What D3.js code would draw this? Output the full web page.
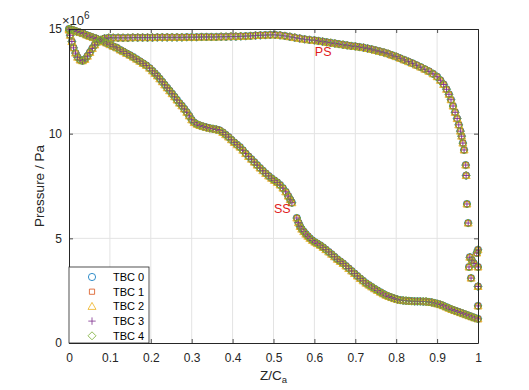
<!DOCTYPE html>
<html><head><meta charset="utf-8">
<script src="https://cdn.jsdelivr.net/npm/d3@7"></script>
<style>
html,body{margin:0;padding:0;background:#fff;}
svg{display:block;font-family:"Liberation Sans",Arial,Helvetica,sans-serif;}
</style></head>
<body><svg id="c" width="529" height="390"></svg>
<script>
// ---- data (Z/Ca, pressure in 1e6 Pa), all five TBC cases coincide visually ----
const seriesNames = ["TBC 0","TBC 1","TBC 2","TBC 3","TBC 4"];
const xTicks = [0,0.1,0.2,0.3,0.4,0.5,0.6,0.7,0.8,0.9,1];
const yTicks = [0,5,10,15];
const pressureSide = [[0.000,14.95],[0.003,14.70],[0.007,14.40],[0.011,14.10],[0.016,13.85],[0.021,13.65],[0.027,13.52],[0.033,13.48],[0.039,13.55],[0.045,13.70],[0.051,13.88],[0.057,14.07],[0.063,14.24],[0.070,14.38],[0.078,14.48],[0.087,14.55],[0.097,14.58],[0.108,14.58],[0.120,14.58],[0.132,14.58],[0.144,14.58],[0.156,14.59],[0.168,14.59],[0.180,14.59],[0.192,14.59],[0.204,14.59],[0.216,14.60],[0.228,14.60],[0.240,14.60],[0.252,14.60],[0.264,14.60],[0.276,14.60],[0.288,14.61],[0.300,14.61],[0.312,14.61],[0.324,14.62],[0.336,14.62],[0.348,14.62],[0.360,14.62],[0.372,14.63],[0.384,14.63],[0.396,14.64],[0.408,14.64],[0.420,14.65],[0.432,14.66],[0.444,14.67],[0.456,14.69],[0.468,14.70],[0.480,14.71],[0.492,14.72],[0.504,14.72],[0.516,14.70],[0.528,14.67],[0.540,14.63],[0.552,14.59],[0.564,14.55],[0.576,14.51],[0.588,14.48],[0.600,14.46],[0.610,14.43],[0.620,14.40],[0.630,14.37],[0.640,14.34],[0.650,14.31],[0.660,14.28],[0.670,14.25],[0.680,14.22],[0.690,14.19],[0.700,14.17],[0.710,14.14],[0.720,14.11],[0.730,14.07],[0.740,14.03],[0.750,13.98],[0.760,13.93],[0.770,13.88],[0.780,13.82],[0.790,13.75],[0.800,13.68],[0.810,13.60],[0.820,13.52],[0.830,13.44],[0.840,13.36],[0.850,13.27],[0.860,13.18],[0.870,13.08],[0.880,12.98],[0.890,12.86],[0.900,12.72],[0.908,12.55],[0.916,12.35],[0.923,12.12],[0.929,11.88],[0.934,11.62],[0.939,11.32],[0.944,11.02],[0.949,10.72],[0.953,10.42],[0.957,10.12],[0.960,9.88],[0.963,9.55],[0.966,9.22],[0.970,8.50],[0.971,8.00],[0.973,6.64],[0.976,5.73]];
const trailingEdge = [[0.980,4.10],[0.985,3.95],[0.978,3.63],[0.983,3.10],[0.990,3.80],[0.997,4.30],[1.000,4.45],[1.000,3.63],[1.000,2.70],[1.000,1.77]];
const suctionSide = [[0.000,15.00],[0.006,14.97],[0.012,14.93],[0.019,14.88],[0.027,14.83],[0.035,14.78],[0.043,14.71],[0.051,14.65],[0.059,14.59],[0.067,14.54],[0.076,14.47],[0.084,14.40],[0.092,14.33],[0.100,14.25],[0.108,14.17],[0.117,14.10],[0.125,14.00],[0.133,13.92],[0.141,13.83],[0.149,13.75],[0.157,13.66],[0.165,13.56],[0.173,13.46],[0.181,13.36],[0.189,13.26],[0.197,13.13],[0.204,13.00],[0.210,12.88],[0.216,12.76],[0.222,12.62],[0.228,12.48],[0.234,12.33],[0.240,12.19],[0.246,12.05],[0.252,11.91],[0.258,11.76],[0.264,11.61],[0.270,11.46],[0.276,11.33],[0.282,11.18],[0.288,11.02],[0.294,10.85],[0.300,10.66],[0.306,10.53],[0.313,10.45],[0.320,10.39],[0.328,10.34],[0.336,10.30],[0.344,10.26],[0.352,10.23],[0.360,10.20],[0.368,10.16],[0.376,10.06],[0.383,9.95],[0.390,9.84],[0.397,9.71],[0.404,9.58],[0.411,9.47],[0.418,9.36],[0.425,9.21],[0.432,9.05],[0.439,8.91],[0.446,8.78],[0.453,8.64],[0.460,8.50],[0.467,8.36],[0.474,8.23],[0.481,8.10],[0.488,7.98],[0.495,7.87],[0.502,7.77],[0.509,7.67],[0.516,7.55],[0.523,7.40],[0.530,7.22],[0.536,7.02],[0.541,6.85],[0.545,6.70],[0.557,5.97],[0.561,5.75],[0.565,5.57],[0.569,5.44],[0.574,5.32],[0.579,5.20],[0.584,5.10],[0.589,5.00],[0.595,4.90],[0.601,4.82],[0.607,4.75],[0.614,4.67],[0.621,4.57],[0.628,4.46],[0.635,4.35],[0.642,4.24],[0.649,4.12],[0.656,4.00],[0.663,3.90],[0.670,3.80],[0.677,3.68],[0.684,3.56],[0.691,3.44],[0.698,3.32],[0.705,3.20],[0.712,3.08],[0.719,2.97],[0.726,2.86],[0.733,2.77],[0.740,2.68],[0.747,2.59],[0.754,2.51],[0.761,2.43],[0.768,2.35],[0.775,2.28],[0.782,2.22],[0.789,2.17],[0.796,2.12],[0.803,2.08],[0.810,2.05],[0.817,2.03],[0.824,2.02],[0.831,2.01],[0.838,2.00],[0.845,1.99],[0.852,1.99],[0.859,1.99],[0.866,1.98],[0.873,1.98],[0.880,1.96],[0.887,1.94],[0.894,1.91],[0.901,1.87],[0.908,1.83],[0.915,1.78],[0.922,1.72],[0.929,1.66],[0.936,1.60],[0.943,1.55],[0.950,1.50],[0.957,1.45],[0.964,1.40],[0.971,1.35],[0.978,1.30],[0.985,1.25],[0.992,1.20],[1.000,1.15]];
const annotations = [{text:"PS", z:0.601, p:13.72},{text:"SS", z:0.501, p:6.2}];

// ---- style ----
const colors = ["#0072BD","#D95319","#EDB120","#7E2F8E","#77AC30"];
const shapes = ["circle","square","triangle","plus","diamond"];
const L=69, R=478, T=29, B=343;
const axisCol="#262626", gridCol="#e3e3e3";

const svg = d3.select("#c");
const x = d3.scaleLinear().domain([0,1]).range([L,R]);
const y = d3.scaleLinear().domain([0,15]).range([B,T]);

function markerPath(s){
  const r=3.6;
  switch(s){
    case "circle": return `M${r},0A${r},${r},0,1,1,${-r},0A${r},${r},0,1,1,${r},0Z`;
    case "square": {const h=2.6; return `M${-h},${-h}H${h}V${h}H${-h}Z`;}
    case "triangle": {const h=4.0; return `M0,${-h}L${h},${h*0.75}L${-h},${h*0.75}Z`;}
    case "plus": {const h=3.7; return `M${-h},0H${h}M0,${-h}V${h}`;}
    case "diamond": {const h=4.0; return `M0,${-h}L${h},0L0,${h}L${-h},0Z`;}
  }
}

// grid
const g = svg.append("g");
g.selectAll(".gx").data(xTicks.slice(1,-1)).join("line")
  .attr("x1",d=>x(d)).attr("x2",d=>x(d)).attr("y1",T).attr("y2",B)
  .attr("stroke",gridCol).attr("stroke-width",1);
g.selectAll(".gy").data(yTicks.slice(1,-1)).join("line")
  .attr("x1",L).attr("x2",R).attr("y1",d=>y(d)).attr("y2",d=>y(d))
  .attr("stroke",gridCol).attr("stroke-width",1);

// axes via d3
const xAxis = d3.axisBottom(x).tickValues(xTicks).tickFormat(d3.format("")).tickSizeInner(-4).tickSizeOuter(0).tickPadding(10);
const yAxis = d3.axisLeft(y).tickValues(yTicks).tickSizeInner(-4).tickSizeOuter(0).tickPadding(7);
const xTop = d3.axisTop(x).tickValues(xTicks).tickFormat("").tickSizeInner(-4).tickSizeOuter(0);
const yRight = d3.axisRight(y).tickValues(yTicks).tickFormat("").tickSizeInner(-4).tickSizeOuter(0);

// data markers
const allPts = pressureSide.concat(trailingEdge, suctionSide);
const dg = svg.append("g");
seriesNames.forEach((name,i)=>{
  dg.append("g").selectAll("path").data(allPts).join("path")
    .attr("d", markerPath(shapes[i]))
    .attr("transform", d=>`translate(${x(d[0])},${y(d[1])})`)
    .attr("fill","none").attr("stroke",colors[i]).attr("stroke-width",0.9);
});

function styleAxis(sel){
  sel.select(".domain").attr("stroke",axisCol).attr("stroke-width",1);
  sel.selectAll(".tick line").attr("stroke",axisCol).attr("stroke-width",0.8);
  sel.selectAll(".tick text").attr("fill",axisCol).attr("font-size",12).attr("font-family","Liberation Sans, Arial, sans-serif");
}
styleAxis(svg.append("g").attr("transform",`translate(0,${B})`).call(xAxis));
styleAxis(svg.append("g").attr("transform",`translate(${L},0)`).call(yAxis));
styleAxis(svg.append("g").attr("transform",`translate(0,${T})`).call(xTop));
styleAxis(svg.append("g").attr("transform",`translate(${R},0)`).call(yRight));

// exponent
const ex = svg.append("text").attr("x",L-7).attr("y",T-4).attr("font-size",13).attr("fill",axisCol);
ex.append("tspan").text("×10");
ex.append("tspan").attr("dy",-6).attr("font-size",10).text("6");

// axis labels
const xl = svg.append("text").attr("x",(L+R)/2).attr("y",380).attr("text-anchor","middle").attr("font-size",13.5).attr("fill",axisCol);
xl.append("tspan").text("Z/C");
xl.append("tspan").attr("dy",3).attr("font-size",9.5).text("a");
svg.append("text").attr("transform",`translate(44,${(T+B)/2}) rotate(-90)`).attr("text-anchor","middle")
  .attr("font-size",13.5).attr("fill",axisCol).text("Pressure / Pa");

// annotations
svg.selectAll(".ann").data(annotations).join("text")
  .attr("x",d=>x(d.z)).attr("y",d=>y(d.p)).attr("font-size",12.5).attr("fill","#e01b1b").text(d=>d.text);

// legend
const lg = svg.append("g");
lg.append("rect").attr("x",L).attr("y",267).attr("width",80).attr("height",B-267)
  .attr("fill","#fff").attr("stroke",axisCol).attr("stroke-width",0.8);
seriesNames.forEach((name,i)=>{
  const yy = 277 + i*14.7;
  lg.append("path").attr("d",markerPath(shapes[i])).attr("transform",`translate(92,${yy})`)
    .attr("fill","none").attr("stroke",colors[i]).attr("stroke-width",0.8);
  lg.append("text").attr("x",113).attr("y",yy+4).attr("font-size",11).attr("fill","#000").text(name);
});
</script></body></html>
